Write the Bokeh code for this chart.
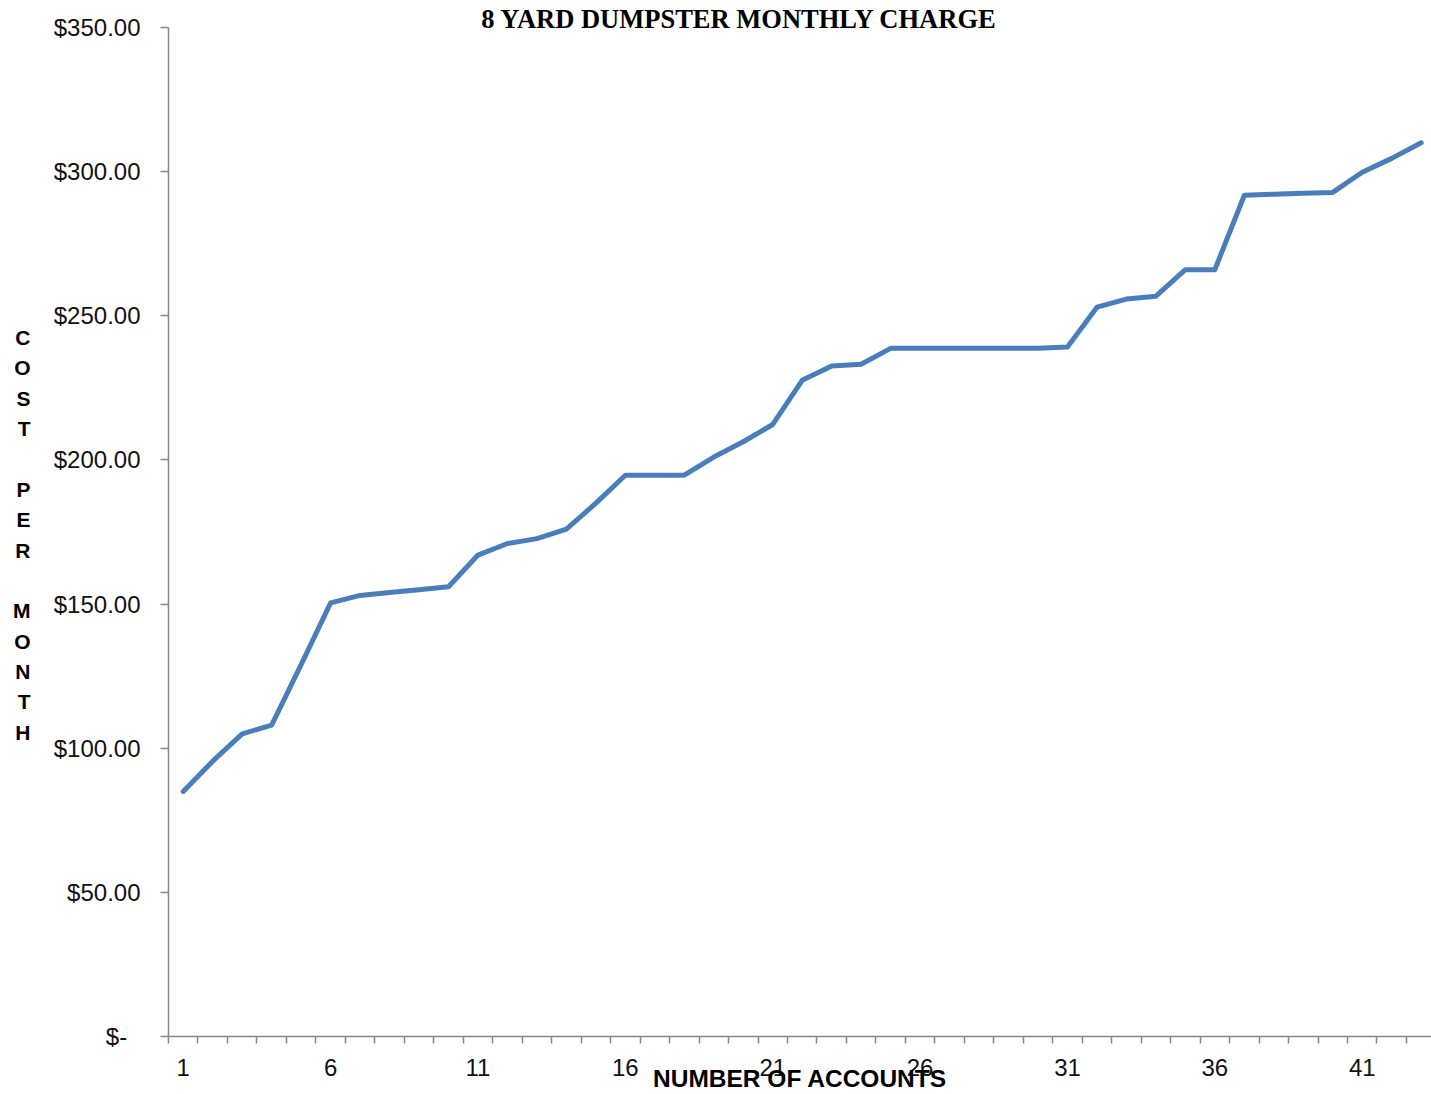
from bokeh.plotting import figure
from bokeh.models import FixedTicker, Range1d, LinearAxis
from bokeh.embed import file_html
from bokeh.resources import INLINE
import numpy as np

accounts = list(range(1, 44))
cost = [85, 95.5, 105, 108, 129, 150.4, 153, 154, 155, 156,
        167, 171, 172.7, 176, 185, 194.7, 194.7, 194.7, 201, 206.3,
        212.3, 227.6, 232.6, 233.2, 238.7, 238.7, 238.7, 238.7, 238.7, 238.7,
        239.2, 253, 255.8, 256.8, 266, 266, 291.8, 292.2, 292.5, 292.8,
        299.8, 304.6, 310]
y_ticks = [0, 50, 100, 150, 200, 250, 300, 350]
y_tick_labels = ["$-\u00a0\u00a0", "$50.00", "$100.00", "$150.00", "$200.00",
                 "$250.00", "$300.00", "$350.00"]
x_tick_labels = [1, 6, 11, 16, 21, 26, 31, 36, 41]
title_text = "8 YARD DUMPSTER MONTHLY CHARGE"
x_title = "NUMBER OF ACCOUNTS"
y_title = "COST PER MONTH"

n = len(accounts)
W, H = 1431, 1094
frame_left, frame_top, frame_bottom = 168, 26, 58
px_per_unit = 29.475
x_end = 0.5 + (W - frame_left) / px_per_unit

p = figure(width=W, height=H, output_backend="svg", toolbar_location=None,
           x_range=Range1d(0.5, x_end), y_range=Range1d(0, 350),
           min_border_left=frame_left, min_border_right=0,
           min_border_top=frame_top, min_border_bottom=frame_bottom)
p.outline_line_color = None
p.xgrid.visible = False
p.ygrid.visible = False

p.line(accounts, cost, line_color="#4A7EBB", line_width=5, line_cap="round", line_join="round")

axis_color = "#868686"
boundaries = list(np.arange(0.5, n + 1.5, 1.0))

xa = p.xaxis[0]
xa.ticker = FixedTicker(ticks=x_tick_labels, minor_ticks=boundaries)
xa.axis_line_color = axis_color
xa.axis_line_width = 1.5
xa.major_tick_out = 0
xa.major_tick_in = 0
xa.minor_tick_out = 7
xa.minor_tick_in = 0
xa.minor_tick_line_color = axis_color
xa.minor_tick_line_width = 1.5
xa.major_label_text_font = "Liberation Sans"
xa.major_label_text_font_size = "24px"
xa.major_label_text_color = "#111111"
xa.major_label_standoff = 15
xa.axis_label = x_title
xa.axis_label_text_font = "Liberation Sans"
xa.axis_label_text_font_style = "bold"
xa.axis_label_text_font_size = "24.5px"
xa.axis_label_text_color = "black"
xa.axis_label_standoff = -14

ya = p.yaxis[0]
ya.ticker = FixedTicker(ticks=y_ticks, minor_ticks=[])
ya.major_label_overrides = {t: l for t, l in zip(y_ticks, y_tick_labels)}
ya.axis_line_color = axis_color
ya.axis_line_width = 1.5
ya.major_tick_out = 8
ya.major_tick_in = 0
ya.major_tick_line_color = axis_color
ya.major_tick_line_width = 1.5
ya.minor_tick_out = 0
ya.minor_tick_in = 0
ya.major_label_text_font = "Liberation Sans"
ya.major_label_text_font_size = "24px"
ya.major_label_text_color = "#111111"
ya.major_label_standoff = 20

def hidden_axis(ticks, overrides):
    ax = LinearAxis(ticker=FixedTicker(ticks=ticks, minor_ticks=[]),
                    major_label_overrides=overrides)
    ax.axis_line_color = None
    ax.major_tick_line_color = None
    ax.minor_tick_line_color = None
    ax.major_tick_out = 0
    ax.major_tick_in = 0
    ax.minor_tick_out = 0
    ax.minor_tick_in = 0
    return ax

# title drawn as a single tick label above the frame
title_x = 0.5 + (739 - frame_left) / px_per_unit
ta = hidden_axis([title_x], {title_x: title_text})
ta.major_label_text_font = "Liberation Serif"
ta.major_label_text_font_style = "bold"
ta.major_label_text_font_size = "26.5px"
ta.major_label_text_color = "black"
ta.major_label_standoff = -6
p.add_layout(ta, "above")

# stacked upright y title as a single multi-line tick label
ppd = (H - frame_top - frame_bottom) / 350.0
stack_y = int(round((H - frame_bottom - 533) / ppd))
stack = "\n".join(ch if ch != " " else "" for ch in y_title)
sa = hidden_axis([stack_y], {stack_y: stack})
sa.major_label_text_font = "Liberation Sans"
sa.major_label_text_font_style = "bold"
sa.major_label_text_font_size = "21px"
sa.major_label_text_color = "black"
sa.major_label_text_line_height = 1.32
sa.major_label_standoff = 20
p.add_layout(sa, "left")

open("out.html", "w").write(file_html(p, INLINE))
